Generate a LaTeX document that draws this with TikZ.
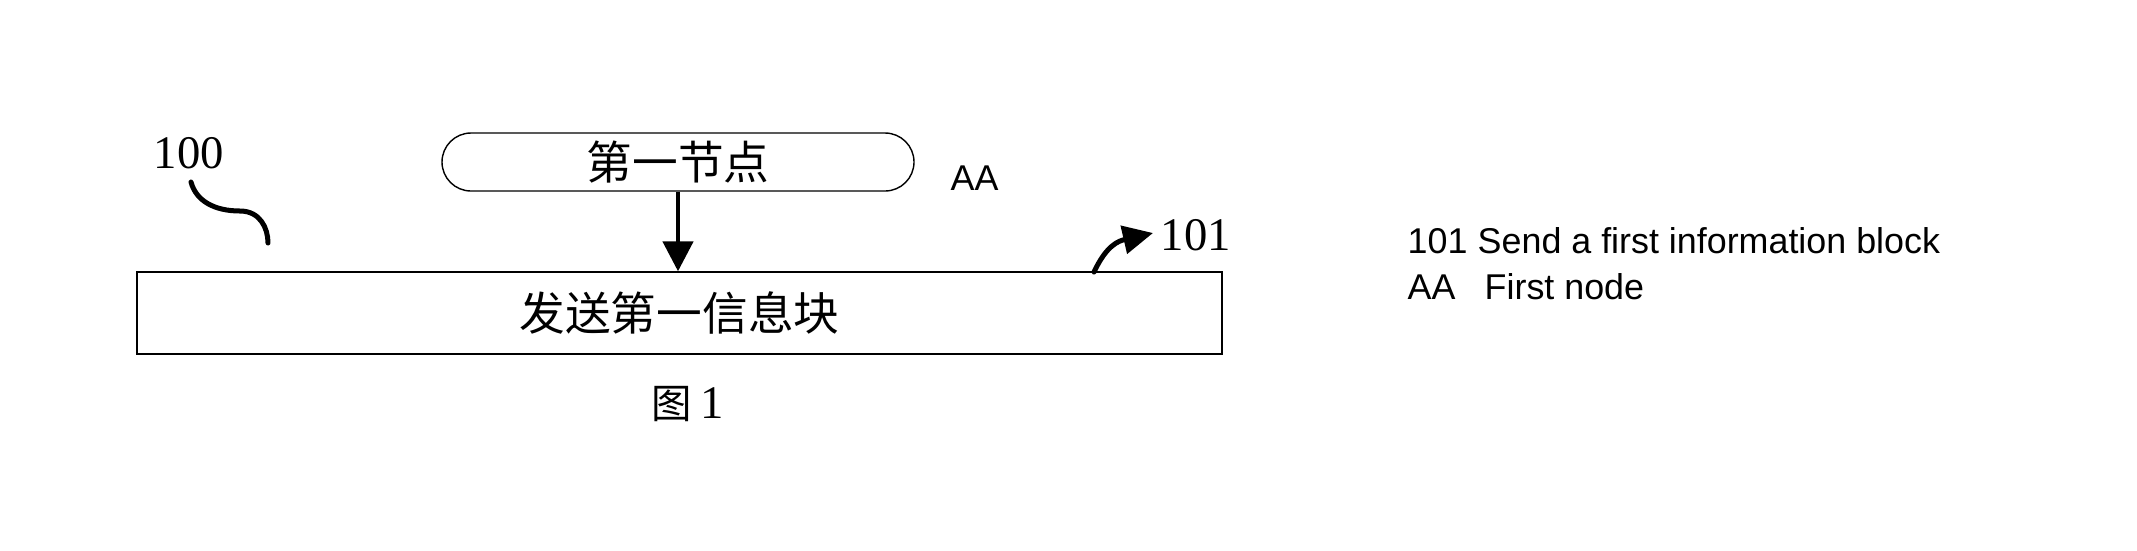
\documentclass[tikz,border=0pt]{standalone}
\usepackage{fontspec}
\setmainfont{Liberation Serif}
\newfontfamily\cjkfont{Noto Sans CJK SC}
\newfontfamily\legendsans{Liberation Sans}
\usepackage{tikz}
\usetikzlibrary{calc, arrows.meta}
\newcommand{\BoxFont}{\cjkfont\fontsize{13pt}{15pt}\selectfont}
\newcommand{\FigFont}{\cjkfont\fontsize{11.5pt}{14pt}\selectfont}
\newcommand{\RefFont}{\fontsize{13.3pt}{16pt}\selectfont}
\newcommand{\AAFont}{\legendsans\fontsize{10.2pt}{12pt}\selectfont}

\begin{document}
\begin{tikzpicture}[
  box/.style={draw, line width=.4pt, inner sep=0, font=\BoxFont},
  lead/.style={line width=.5mm, line cap=round},
  txt/.style={anchor=base west, inner sep=0}]
\useasboundingbox (0,0) rectangle (21.37,5.5);
\coordinate (N) at (6.78,3.88);
\coordinate (B) at (6.795,2.37);
\coordinate (Wa) at (1.91,3.68);
\coordinate (Wm) at (2.40,3.39);
\coordinate (Wb) at (2.68,3.07);
\coordinate (Sa) at (10.94,2.78);
\coordinate (Ta) at (11.53,3.17);
\node at (N) [name=node, box, rounded corners=2.9mm, minimum width=4.72cm, minimum height=.58cm] {第一节点};
\node at (B) [name=block, box, minimum width=10.85cm, minimum height=.82cm] {发送第一信息块};
\draw [line width=.47mm, -{Triangle[length=3mm, width=3mm]}] (node.south) -- (node.south |- block.north);
\draw [lead] (Wa) .. controls +(-75:.2) and +(180:.25) .. (Wm) .. controls +(0:.2) and +(90:.15) .. (Wb);
\draw [lead, -{Triangle[length=3mm, width=2.8mm]}] (Sa) .. controls +(65:.3) and +(193:.35) .. (Ta);
\node at (1.53,3.82) [name=ref100, txt, font=\RefFont] {100};
\node at (11.60,3.00) [name=ref101, txt, font=\RefFont] {101};
\node at (9.50,3.60) [name=aa, txt, font=\AAFont] {AA};
\node at (6.88,1.32) [name=fig, anchor=base, inner sep=0] {{\FigFont 图} {\RefFont 1}};
\node at (14.07,2.97) [name=k101, txt, font=\AAFont] {101};
\node at (14.77,2.97) [name=d101, txt, font=\AAFont] {Send a first information block};
\node at (14.07,2.51) [name=kaa, txt, font=\AAFont] {AA};
\node at (14.84,2.51) [name=daa, txt, font=\AAFont] {First node};
\end{tikzpicture}
\end{document}
